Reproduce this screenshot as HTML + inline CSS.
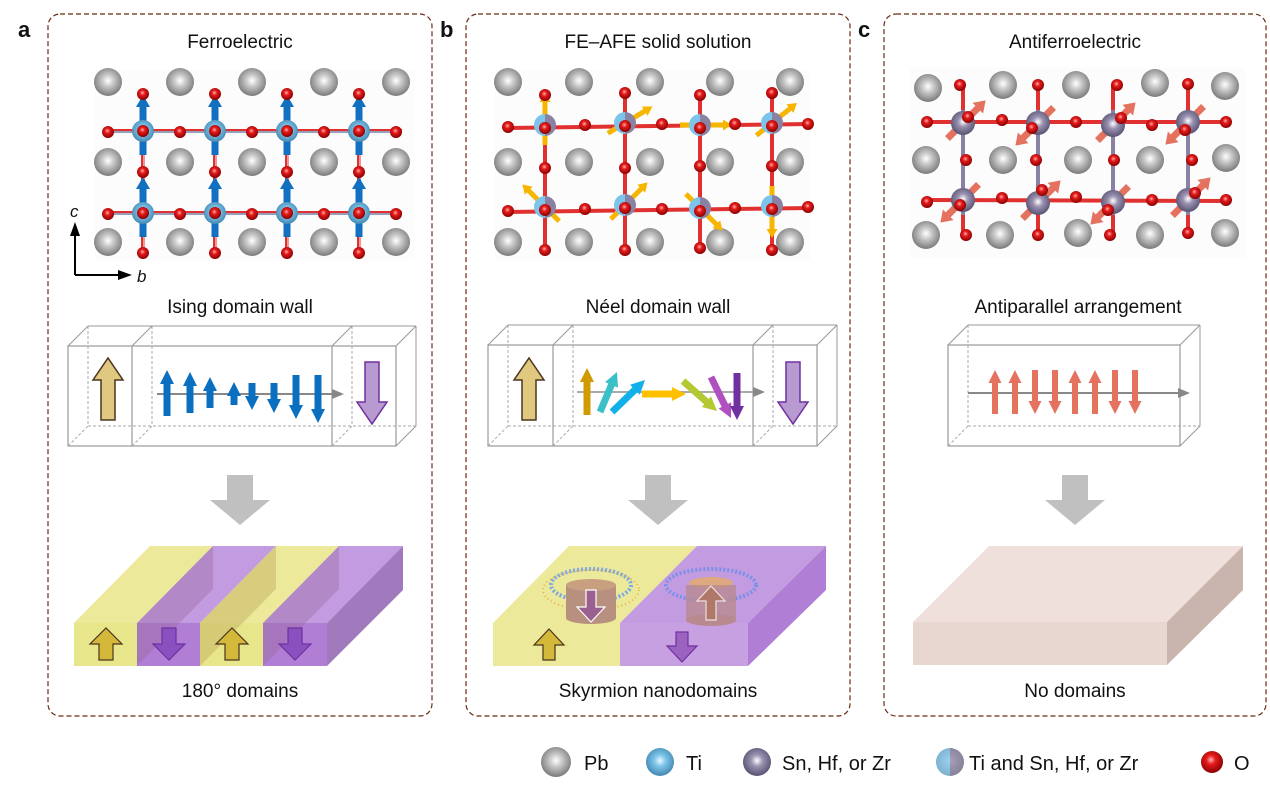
<!DOCTYPE html>
<html><head><meta charset="utf-8"><style>
html,body{margin:0;padding:0;background:#fff;}
svg{display:block;font-family:"Liberation Sans",Arial,sans-serif;}
</style></head><body>
<svg id="s" width="1270" height="790" viewBox="0 0 1270 790" xmlns="http://www.w3.org/2000/svg">
<defs>
<radialGradient id="gPb" cx="0.5" cy="0.45" r="0.6"><stop offset="0" stop-color="#fff"/><stop offset="0.35" stop-color="#c8c8c8"/><stop offset="1" stop-color="#6e6e6e"/></radialGradient>
<radialGradient id="gTi" cx="0.5" cy="0.45" r="0.6"><stop offset="0" stop-color="#eaf8ff"/><stop offset="0.35" stop-color="#7cc4ea"/><stop offset="1" stop-color="#3b7fa8"/></radialGradient>
<radialGradient id="gSn" cx="0.5" cy="0.45" r="0.6"><stop offset="0" stop-color="#fff"/><stop offset="0.35" stop-color="#9a92b0"/><stop offset="1" stop-color="#4e4868"/></radialGradient>
<radialGradient id="gO" cx="0.45" cy="0.4" r="0.6"><stop offset="0" stop-color="#ffb0b0"/><stop offset="0.35" stop-color="#e51c1c"/><stop offset="1" stop-color="#8a0000"/></radialGradient>
<linearGradient id="gMix" x1="0" x2="1"><stop offset="0.5" stop-color="#7cc4ea"/><stop offset="0.5" stop-color="#8a82a2"/></linearGradient>
</defs>
<g font-size="19" fill="#111">
<text x="18" y="37" font-weight="bold" font-size="22">a</text>
<text x="440" y="37" font-weight="bold" font-size="22">b</text>
<text x="858" y="37" font-weight="bold" font-size="22">c</text>
<text x="240" y="48" text-anchor="middle">Ferroelectric</text>
<text x="658" y="48" text-anchor="middle">FE–AFE solid solution</text>
<text x="1075" y="48" text-anchor="middle">Antiferroelectric</text>
<text x="240" y="313" text-anchor="middle">Ising domain wall</text>
<text x="658" y="313" text-anchor="middle">Néel domain wall</text>
<text x="1078" y="313" text-anchor="middle">Antiparallel arrangement</text>
<text x="240" y="697" text-anchor="middle">180° domains</text>
<text x="658" y="697" text-anchor="middle">Skyrmion nanodomains</text>
<text x="1075" y="697" text-anchor="middle">No domains</text>
<text x="70" y="217" font-style="italic" font-size="17">c</text>
<text x="137" y="282" font-style="italic" font-size="17">b</text>
<g font-size="20">
<text x="584" y="770">Pb</text>
<text x="686" y="770">Ti</text>
<text x="782" y="770">Sn, Hf, or Zr</text>
<text x="969" y="770">Ti and Sn, Hf, or Zr</text>
<text x="1234" y="770">O</text>
</g>
</g>
<g id="g"></g>
</svg>
<script>
var g=document.getElementById('g'),h='';
function add(s){h+=s;}
function rr(x,y,w,hh){add('<rect x="'+x+'" y="'+y+'" width="'+w+'" height="'+hh+'" rx="12" fill="none" stroke="#6b2a14" stroke-width="1.2" stroke-dasharray="5,3"/>');}
rr(48,14,384,702);rr(466,14,384,702);rr(884,14,382,702);
function sph(x,y,r,f){add('<circle cx="'+x+'" cy="'+y+'" r="'+r+'" fill="url(#'+f+')"/>');}
function ln(x1,y1,x2,y2,c,w,d){add('<line x1="'+x1+'" y1="'+y1+'" x2="'+x2+'" y2="'+y2+'" stroke="'+c+'" stroke-width="'+w+'"'+(d?' stroke-dasharray="'+d+'"':'')+'/>');}
function arr(x1,y1,x2,y2,w,hw,hl,fill,st,sw){
 var dx=x2-x1,dy=y2-y1,L=Math.hypot(dx,dy),ux=dx/L,uy=dy/L,px=-uy,py=ux;
 var bx=x2-ux*hl,by=y2-uy*hl;
 var p=[[x1+px*w/2,y1+py*w/2],[bx+px*w/2,by+py*w/2],[bx+px*hw/2,by+py*hw/2],[x2,y2],[bx-px*hw/2,by-py*hw/2],[bx-px*w/2,by-py*w/2],[x1-px*w/2,y1-py*w/2]];
 add('<polygon points="'+p.map(function(q){return q[0].toFixed(1)+','+q[1].toFixed(1)}).join(' ')+'" fill="'+fill+'"'+(st?' stroke="'+st+'" stroke-width="'+(sw||1.5)+'"':'')+'/>');}
var ax=[108,180,252,324,396],ry=[82,162,242],tx=[143,215,287,359],ty=[131,213];
add('<rect x="95" y="70" width="320" height="190" fill="#fcfcfc"/>');
ry.forEach(function(y){ax.forEach(function(x){sph(x,y,14,'gPb');});});
ty.forEach(function(y){ln(103,y,402,y,'#e03030',4);ln(103,y+1,402,y+1,'#7cc4ea',1.5);});
tx.forEach(function(x){ln(x,94,x,254,'#e03030',4);ln(x+1,94,x+1,254,'#fff',1);});
ty.forEach(function(y){tx.forEach(function(x){arr(x,y+24,x,y-36,7,14,12,'#1170c0');sph(x,y,11,'gTi');sph(x,y,6,'gO');});
 [108,180,252,324,396].forEach(function(x){sph(x,y+1,6,'gO');});});
tx.forEach(function(x){sph(x,94,6,'gO');sph(x,172,6,'gO');sph(x,253,6,'gO');});
ln(75,275,75,232,'#000',2);arr(75,240,75,222,0,10,14,'#000');
ln(75,275,120,275,'#000',2);arr(115,275,132,275,0,10,14,'#000');
var bx=[508,579,650,720,790];
add('<rect x="495" y="70" width="315" height="190" fill="#fcfcfc"/>');
ry.forEach(function(y){bx.forEach(function(x){sph(x,y,14,'gPb');});});
var bb=[[545,125],[625,123],[700,125],[772,123],[545,207],[625,205],[700,208],[772,206]];
ln(505,128,812,124,'#e03030',4);ln(505,212,812,208,'#e03030',4);
[545,625,700,772].forEach(function(x){ln(x,95,x,250,'#e03030',4);});
var ya='#f7b500',bdirs=[[0,-1],[1,-0.6],[1,0],[1,-0.8],[-1,-1],[1,-1],[1,1],[0,1]];
bb.forEach(function(p,i){var d=bdirs[i],L=Math.hypot(d[0],d[1]),ux=d[0]/L,uy=d[1]/L;arr(p[0]-ux*20,p[1]-uy*20,p[0]+ux*32,p[1]+uy*32,5,11,9,ya);sph(p[0],p[1],11,'gMix');sph(p[0],p[1]+3,6,'gO');});
[[545,95],[625,93],[700,95],[772,93],[545,168],[625,168],[700,166],[772,166],[545,250],[625,250],[700,248],[772,250],[508,127],[585,125],[662,124],[735,124],[808,124],[508,211],[585,209],[662,209],[735,208],[808,207]].forEach(function(p){sph(p[0],p[1],6,'gO');});
add('<rect x="910" y="68" width="335" height="190" fill="#fcfcfc"/>');
[[928,88],[1003,85],[1076,85],[1155,83],[1225,86],[926,160],[1003,160],[1078,160],[1150,160],[1226,158],[926,235],[1000,235],[1078,233],[1150,235],[1225,233]].forEach(function(p){sph(p[0],p[1],14,'gPb');});
var cb=[[963,123],[1038,123],[1113,125],[1188,122],[963,200],[1038,203],[1113,202],[1188,200]];
ln(925,122,1228,122,'#e03030',4);ln(925,200,1228,201,'#e03030',4);
[963,1038,1113,1188].forEach(function(x){ln(x,85,x,236,'#e03030',4);ln(x,110,x,215,'#8a82a2',4);});
var cd=[1,-1,1,-1,-1,1,-1,1];
cb.forEach(function(p,i){var s=cd[i],ux=0.707*s,uy=-0.707*s;arr(p[0]-ux*22,p[1]-uy*22,p[0]+ux*32,p[1]+uy*32,7,15,11,'#e4725f');sph(p[0],p[1],12,'gSn');});
[[960,85],[1038,85],[1117,85],[1188,84],[966,160],[1036,160],[1114,160],[1192,160],[966,235],[1038,235],[1110,235],[1188,233],[927,122],[1002,120],[1076,122],[1152,125],[1226,122],[927,202],[1002,198],[1076,197],[1152,200],[1226,200],[968,117],[1032,128],[1121,118],[1185,130],[960,205],[1042,190],[1108,210],[1195,193]].forEach(function(p){sph(p[0],p[1],6,'gO');});
function box(x0,x1,y0,y1,divs){var o=20,c='#999';
 ln(x0+o,y1-o,x1+o,y1-o,'#aaa',1,'3,2');
 [x0].concat(divs).forEach(function(x){ln(x+o,y0-o,x+o,y1-o,'#aaa',1,'3,2');});
 add('<rect x="'+x0+'" y="'+y0+'" width="'+(x1-x0)+'" height="'+(y1-y0)+'" fill="none" stroke="'+c+'" stroke-width="1.2"/>');
 ln(x0,y0,x0+o,y0-o,c,1);ln(x0+o,y0-o,x1+o,y0-o,c,1);ln(x1,y0,x1+o,y0-o,c,1);ln(x1+o,y0-o,x1+o,y1-o,c,1);ln(x1,y1,x1+o,y1-o,c,1);ln(x0,y1,x0+o,y1-o,'#aaa',1,'3,2');
 divs.forEach(function(x){ln(x,y0,x,y1,c,1.2);ln(x,y0,x+o,y0-o,c,1);ln(x,y1,x+o,y1-o,'#aaa',1,'3,2');});}
box(68,396,346,446,[132,332]);box(488,817,345,446,[553,753]);box(948,1180,345,446,[]);
ln(157,394,338,394,'#888',2);arr(330,394,344,394,0,10,12,'#888');
arr(108,420,108,358,14,30,22,'#e0c880','#4a3520',1.5);
arr(372,362,372,424,14,30,22,'#b79ad0','#7030a0',1.5);
[[167,416,370],[190,413,372],[210,408,377],[234,405,382],[252,383,410],[274,383,413],[296,375,419],[318,375,423]].forEach(function(a){arr(a[0],a[1],a[0],a[2],7,14,14,'#0b6fc0');});
ln(577,392,758,392,'#aaa',2);arr(752,392,765,392,0,10,12,'#888');
arr(529,420,529,358,14,30,22,'#e0c880','#4a3520',1.5);
arr(793,362,793,424,14,30,22,'#b79ad0','#7030a0',1.5);
arr(587,415,587,368,7,14,14,'#d09a00');arr(600,412,617,372,7,14,14,'#3cc0c8');arr(612,412,645,380,7,14,14,'#11b0e8');
arr(642,394,686,394,7,14,14,'#ffc000');arr(683,381,717,411,7,14,14,'#b4c832');arr(711,377,731,418,7,14,14,'#b050c0');arr(737,373,737,420,7,14,14,'#7030a0');
ln(968,393,1183,393,'#888',2);arr(1178,393,1190,393,0,10,12,'#888');
[[985,1],[1005,1],[1025,-1],[1045,-1],[1065,1],[1085,1],[1105,-1],[1125,-1]].forEach(function(a){var x=a[0]+10;if(a[1]>0)arr(x,414,x,370,6,13,13,'#e4725f');else arr(x,370,x,414,6,13,13,'#e4725f');});
[240,658,1075].forEach(function(x){add('<polygon points="'+(x-13)+',475 '+(x+13)+',475 '+(x+13)+',500 '+(x+30)+',500 '+x+',525 '+(x-30)+',500 '+(x-13)+',500" fill="#c0c0c0"/>');});
function poly(pts,f){add('<polygon points="'+pts+'" fill="'+f+'"/>');}
var Y='#ece99a',P='#c39be0',o=76,t=546,f0=623,f1=666;
var xs=[74,137,200,263,327],cols=['#e8e68a','#b07ed4','#e8e68a','#b07ed4'],tops=[Y,P,Y,P];
for(var i=0;i<4;i++){poly(xs[i]+o+','+t+' '+(xs[i+1]+o)+','+t+' '+xs[i+1]+','+f0+' '+xs[i]+','+f0,tops[i]);}
for(var i=0;i<4;i++){add('<rect x="'+xs[i]+'" y="'+f0+'" width="'+(xs[i+1]-xs[i])+'" height="'+(f1-f0)+'" fill="'+cols[i]+'"/>');}
poly('327,623 403,546 403,590 327,666','#a07abc');
[137,263].forEach(function(x){poly(x+','+f0+' '+(x+o)+','+t+' '+(x+o)+','+(t+43)+' '+x+','+f1,'rgba(150,100,150,0.35)');});
[200].forEach(function(x){poly(x+','+f0+' '+(x+o)+','+t+' '+(x+o)+','+(t+43)+' '+x+','+f1,'rgba(190,170,90,0.45)');});
[[106,1],[169,-1],[232,1],[295,-1]].forEach(function(a){var x=a[0];if(a[1]>0)arr(x,660,x,628,14,32,16,'#d4b83a','#4a3520',1.2);else arr(x,628,x,660,14,32,16,'#8a50c0','#7030a0',1.2);});
poly('569,546 697,546 620,623 493,623',Y);poly('697,546 826,546 748,623 620,623',P);
add('<rect x="493" y="623" width="127" height="43" fill="'+Y+'"/><rect x="620" y="623" width="128" height="43" fill="#c6a0e0"/>');
poly('748,623 826,546 826,590 748,666','#b07ed4');
add('<ellipse cx="591" cy="585" rx="40" ry="16" fill="none" stroke="#7aa8e8" stroke-width="4" stroke-dasharray="2,2"/><ellipse cx="591" cy="590" rx="48" ry="20" fill="none" stroke="#f0b040" stroke-width="2" stroke-dasharray="1,3"/>');
add('<rect x="566" y="585" width="50" height="33" fill="#b89080"/><ellipse cx="591" cy="618" rx="25" ry="6" fill="#b89080"/><ellipse cx="591" cy="585" rx="25" ry="6" fill="#c8a080"/>');
arr(591,590,591,622,10,28,15,'#9a6090','#fff',1.2);
add('<ellipse cx="711" cy="585" rx="45" ry="16" fill="none" stroke="#7a90e8" stroke-width="4" stroke-dasharray="2,2"/><ellipse cx="711" cy="583" rx="22" ry="6" fill="#f0b040" opacity="0.6"/>');
add('<rect x="686" y="585" width="50" height="35" fill="#b88a90" opacity="0.8"/><ellipse cx="711" cy="620" rx="25" ry="6" fill="#b88a90"/>');
arr(711,620,711,586,10,28,15,'#b07868','#f0e0e0',1.2);
arr(549,660,549,629,12,30,16,'#d4b83a','#4a3520',1.2);arr(682,632,682,662,12,30,16,'#9b62c0','#7030a0',1.2);
poly('989,546 1243,546 1167,622 913,622','#efe0dc');add('<rect x="913" y="622" width="254" height="43" fill="#e8d6d0"/>');poly('1167,622 1243,546 1243,590 1167,665','#cab5ae');
sph(556,762,15,'gPb');sph(660,762,14,'gTi');sph(757,762,14,'gSn');
add('<circle cx="950" cy="762" r="14" fill="url(#gMix)"/><circle cx="950" cy="762" r="14" fill="url(#gPb)" opacity="0.25"/>');
sph(1212,762,11,'gO');
g.innerHTML=h;
</script>
</body></html>
